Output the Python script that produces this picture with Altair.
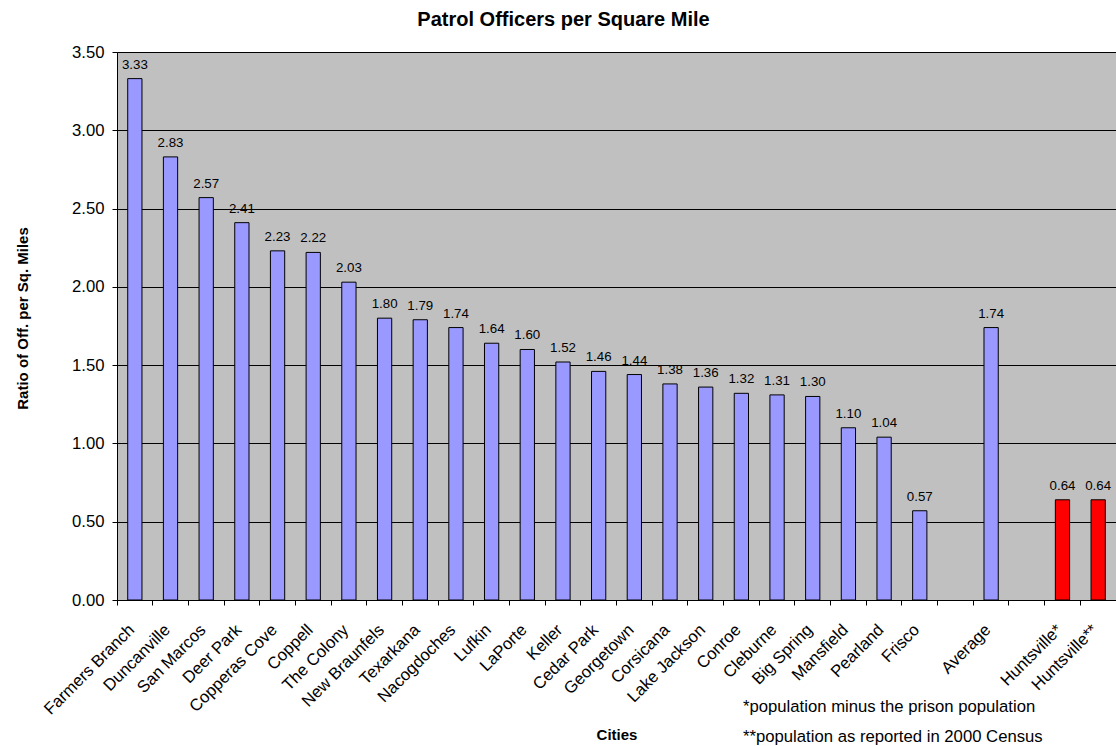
import altair as alt
import pandas as pd

# ---- data ----
cities = ["Farmers Branch", "Duncanville", "San Marcos", "Deer Park", "Copperas Cove",
          "Coppell", "The Colony", "New Braunfels", "Texarkana", "Nacogdoches",
          "Lufkin", "LaPorte", "Keller", "Cedar Park", "Georgetown", "Corsicana",
          "Lake Jackson", "Conroe", "Cleburne", "Big Spring", "Mansfield", "Pearland",
          "Frisco", "Average", "Huntsville*", "Huntsville**"]
values = [3.33, 2.83, 2.57, 2.41, 2.23, 2.22, 2.03, 1.80, 1.79, 1.74, 1.64, 1.60,
          1.52, 1.46, 1.44, 1.38, 1.36, 1.32, 1.31, 1.30, 1.10, 1.04, 0.57,
          1.74, 0.64, 0.64]
groups = ["city"] * 23 + ["avg"] + ["huntsville"] * 2
# axis slots, including the two empty gaps of the original chart
slots = cities[:23] + [" ", "Average", "  ", "Huntsville*", "Huntsville**"]
y_ticks = [0, 0.5, 1.0, 1.5, 2.0, 2.5, 3.0, 3.5]
footnotes = ["*population minus the prison population",
             "**population as reported in 2000 Census"]

df = pd.DataFrame({"city": cities, "value": values, "group": groups})

FONT = "Liberation Sans"

x_enc = alt.X(
    "city:N",
    sort=slots,
    scale=alt.Scale(domain=slots, paddingInner=0, paddingOuter=0),
    axis=alt.Axis(
        title="Cities",
        titleFontSize=15, titleFontWeight="bold", titleFont=FONT, titleColor="black",
        titlePadding=10,
        labelAngle=315, labelAlign="right", labelBaseline="middle",
        bandPosition=0, labelOffset=-3,
        labelPadding=22, labelFontSize=16.7, labelFont=FONT, labelColor="black",
        labelOverlap=False,
        tickSize=5, tickColor="black", domainColor="black",
        grid=False,
    ),
)
y_enc = alt.Y(
    "value:Q",
    scale=alt.Scale(domain=[0, 3.5], nice=False),
    axis=alt.Axis(
        values=y_ticks, format=".2f",
        title="Ratio of Off. per Sq. Miles",
        titleFontSize=15, titleFontWeight="bold", titleFont=FONT, titleColor="black",
        titleX=-90, titleY=266, titleBaseline="alphabetic", titleAlign="center",
        labelFontSize=16.7, labelFont=FONT, labelColor="black", labelPadding=8,
        tickSize=5, tickColor="black", domainColor="black",
        grid=True, gridColor="black", gridWidth=1,
    ),
)

base = alt.Chart(df).encode(x=x_enc, y=y_enc)

bars = base.mark_bar(stroke="black", strokeWidth=1,
                     width=alt.RelativeBandSize(0.4)).encode(
    color=alt.Color("group:N",
                    scale=alt.Scale(domain=["city", "avg", "huntsville"],
                                    range=["#9999FF", "#9999FF", "#FF0000"]),
                    legend=None),
)

labels = base.mark_text(
    dy=-10, baseline="alphabetic", fontSize=13.3, font=FONT, color="black"
).encode(
    text=alt.Text("value:Q", format=".2f"),
)

notes1 = alt.Chart(pd.DataFrame({"note": [footnotes[0]]})).mark_text(
    align="left", baseline="alphabetic", fontSize=16.7, font=FONT, color="black"
).encode(x=alt.value(626), y=alt.value(660), text="note:N")
notes2 = alt.Chart(pd.DataFrame({"note": [footnotes[1]]})).mark_text(
    align="left", baseline="alphabetic", fontSize=16.7, font=FONT, color="black"
).encode(x=alt.value(626), y=alt.value(690), text="note:N")

chart = alt.layer(bars, labels, notes1, notes2).properties(
    width=999,
    height=548,
    title=alt.Title("Patrol Officers per Square Mile", fontSize=20, fontWeight="bold",
                    font=FONT, color="black", anchor="middle", dx=-53, offset=14),
    autosize=alt.AutoSizeParams(type="none"),
    padding={"left": 117, "top": 52, "right": 0, "bottom": 146},
    background="white",
).configure_view(fill="#C0C0C0", stroke="#808080", strokeWidth=1)

chart.save("out.html", embed_options={"renderer": "svg", "actions": False})
